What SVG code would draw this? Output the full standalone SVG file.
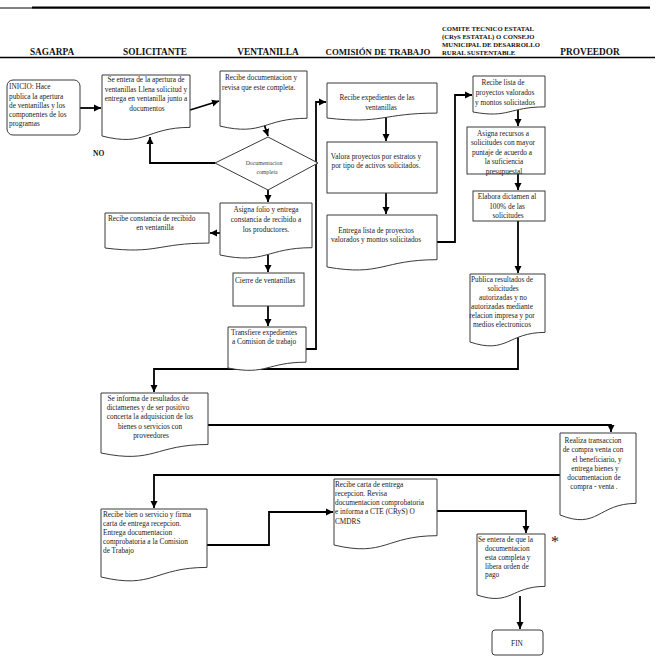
<svg xmlns="http://www.w3.org/2000/svg" width="661" height="662" viewBox="0 0 661 662">
<style>
.bx{fill:#fff;stroke:#3a3a3a;stroke-width:1}
.cn{fill:none;stroke:#000;stroke-width:1.8}
.t{font-family:"Liberation Serif",serif;font-size:7.3px;fill:#1a1a1a}
.m{text-anchor:middle}
.h{font-family:"Liberation Serif",serif;font-size:9.3px;font-weight:bold;fill:#111}
.hs{font-family:"Liberation Serif",serif;font-size:6.7px;font-weight:bold;fill:#111}
</style>
<defs>
<marker id="ah" markerUnits="userSpaceOnUse" markerWidth="8" markerHeight="8" refX="7" refY="4" orient="auto">
<path d="M0,0.5 L7,4 L0,7.5 Z" fill="#000"/>
</marker>
</defs>
<rect width="661" height="662" fill="#fff"/>
<g id="header">
<path d="M0,8 H650" stroke="#000" stroke-width="1"/>
<path d="M32,7.5 H650" stroke="#000" stroke-width="2"/>
<path d="M0,57.5 H655" stroke="#000" stroke-width="1.3"/>
<text class="h m" x="52" y="54.5">SAGARPA</text>
<text class="h m" x="155" y="54.5">SOLICITANTE</text>
<text class="h m" x="268" y="54.5">VENTANILLA</text>
<text class="h m" x="378" y="54.5" style="font-size:8.8px">COMISIÓN DE TRABAJO</text>
<text class="hs" x="442" y="30.5">COMITE TECNICO ESTATAL</text>
<text class="hs" x="442" y="38.5">(CRyS ESTATAL) O CONSEJO</text>
<text class="hs" x="442" y="46.5">MUNICIPAL DE DESARROLLO</text>
<text class="hs" x="442" y="54.5">RURAL SUSTENTABLE</text>
<text class="h m" x="590" y="54.5">PROVEEDOR</text>
</g>
<g id="connectors">
<path class="cn" d="M80,108 H101" marker-end="url(#ah)"/>
<path class="cn" d="M190,110 L219,101" marker-end="url(#ah)"/>
<path class="cn" d="M264,124 L268,136" marker-end="url(#ah)"/>
<path class="cn" d="M215,163 H150 V137" marker-end="url(#ah)"/>
<path class="cn" d="M268,190 V202" marker-end="url(#ah)"/>
<path class="cn" d="M220,233 H210" marker-end="url(#ah)"/>
<path class="cn" d="M268,255 V272" marker-end="url(#ah)"/>
<path class="cn" d="M268,306 V326" marker-end="url(#ah)"/>
<path class="cn" d="M306,349 H316 V102 H326" marker-end="url(#ah)"/>
<path class="cn" d="M386,117 V141" marker-end="url(#ah)"/>
<path class="cn" d="M386,193 V214" marker-end="url(#ah)"/>
<path class="cn" d="M437,242 H455 V95 H472" marker-end="url(#ah)"/>
<path class="cn" d="M518,110 V126" marker-end="url(#ah)"/>
<path class="cn" d="M518,174 V190" marker-end="url(#ah)"/>
<path class="cn" d="M518,221 V273" marker-end="url(#ah)"/>
<path class="cn" d="M518,337 V369 H154 V392" marker-end="url(#ah)"/>
<path class="cn" d="M208,425 H611 V432" marker-end="url(#ah)"/>
<path class="cn" d="M560,475 H154 V508" marker-end="url(#ah)"/>
<path class="cn" d="M207,545 H269 V512 H333" marker-end="url(#ah)"/>
<path class="cn" d="M437,511 H526 V533" marker-end="url(#ah)"/>
<path class="cn" d="M520,596 V629" stroke-width="2.2" marker-end="url(#ah)"/>
</g>
<g id="inicio">
<rect class="bx" x="7" y="80" width="73" height="55" rx="6"/>
<text class="t" x="9" y="89">INICIO: Hace</text>
<text class="t" x="9" y="98.5">publica la apertura</text>
<text class="t" x="9" y="108">de ventanillas y los</text>
<text class="t" x="9" y="117">componentes de los</text>
<text class="t" x="9" y="126">programas</text>
</g>
<g id="solicitud">
<path class="bx" d="M102,75 H190 V127.4 C146,127.4 146,147.3 102,136 Z"/>
<text class="t m" x="146" y="82">Se entera de la apertura de</text>
<text class="t m" x="146" y="91.5">ventanillas Llena solicitud y</text>
<text class="t m" x="146" y="101">entrega en ventanilla junto a</text>
<text class="t m" x="147" y="110.5">documentos</text>
</g>
<g id="recibe-doc">
<path class="bx" d="M220,71 H307 V118.3 C263.5,118.3 263.5,136.3 220,126.1 Z"/>
<text class="t" x="225" y="80">Recibe documentacion y</text>
<text class="t" x="222" y="90">revisa que este completa.</text>
</g>
<g id="decision">
<path class="bx" d="M215,163 L268,137 L318,163 L268,190 Z"/>
<text class="t m" x="264" y="165" style="font-size:5.8px;fill:#444">Documentacion</text>
<text class="t m" x="267" y="174" style="font-size:5.8px;fill:#444">completa</text>
<text class="h" x="93" y="156" style="font-size:7.5px">NO</text>
</g>
<g id="asigna-folio">
<path class="bx" d="M220,203 H312 V247.7 C266,247.7 266,264.7 220,255 Z"/>
<text class="t m" x="266" y="211.5">Asigna folio y entrega</text>
<text class="t m" x="266" y="221.5">constancia de recibido a</text>
<text class="t m" x="266" y="231.5">los productores.</text>
</g>
<g id="recibe-constancia">
<path class="bx" d="M105,213 H209 V243.1 C157,243.1 157,254.5 105,248 Z"/>
<text class="t" x="108" y="220.5">Recibe constancia de recibido</text>
<text class="t m" x="155" y="229.5">en ventanilla</text>
</g>
<g id="cierre">
<rect class="bx" x="233" y="273" width="71" height="33"/>
<text class="t" x="235" y="283">Cierre de ventanillas</text>
</g>
<g id="transfiere">
<path class="bx" d="M228,327 H306 V362.2 C267,362.2 267,375.6 228,368 Z"/>
<text class="t" x="231" y="334.5">Transfiere expedientes</text>
<text class="t" x="232" y="343.5">a Comision de trabajo</text>
</g>
<g id="recibe-exp">
<path class="bx" d="M327,83 H437 V113.1 C382,113.1 382,124.5 327,118 Z"/>
<text class="t m" x="377" y="100">Recibe expedientes de las</text>
<text class="t m" x="381" y="109.5">ventanillas</text>
</g>
<g id="valora">
<rect class="bx" x="327" y="142" width="110" height="51"/>
<text class="t m" x="376" y="158.5">Valora proyectos por estratos y</text>
<text class="t m" x="376" y="167.5">por tipo de activos solicitados.</text>
</g>
<g id="entrega-lista">
<path class="bx" d="M327,215 H437 V259.7 C382,259.7 382,276.7 327,267 Z"/>
<text class="t m" x="376" y="232.5">Entrega lista de proyectos</text>
<text class="t m" x="376" y="241.5">valorados y montos solicitados</text>
</g>
<g id="recibe-lista">
<path class="bx" d="M473,76 H545 V106.9 C509,106.9 509,118.6 473,112 Z"/>
<text class="t m" x="503" y="84.5">Recibe lista de</text>
<text class="t m" x="505" y="94.5">proyectos valorados</text>
<text class="t m" x="505" y="104.5">y montos solicitados</text>
</g>
<g id="asigna-recursos">
<rect class="bx" x="467" y="127" width="78" height="47"/>
<text class="t m" x="503" y="135.5">Asigna recursos a</text>
<text class="t m" x="503" y="145">solicitudes con mayor</text>
<text class="t m" x="502" y="154.5">puntaje de acuerdo a</text>
<text class="t m" x="504" y="164">la suficiencia</text>
<text class="t m" x="504" y="173.5">presupuestal</text>
</g>
<g id="elabora">
<rect class="bx" x="473" y="191" width="72" height="30"/>
<text class="t m" x="507" y="198.5">Elabora dictamen al</text>
<text class="t m" x="507" y="208.5">100% de las</text>
<text class="t m" x="508" y="217.5">solicitudes</text>
</g>
<g id="publica">
<path class="bx" d="M470,274 H545 V332.4 C507.5,332.4 507.5,354.6 470,342 Z"/>
<text class="t m" x="502" y="281.5">Publica resultados de</text>
<text class="t m" x="503" y="290.5">solicitudes</text>
<text class="t m" x="503" y="300">autorizadas y no</text>
<text class="t m" x="502" y="309">autorizadas mediante</text>
<text class="t m" x="502" y="318">relacion impresa y por</text>
<text class="t m" x="502" y="327">medios electronicos</text>
</g>
<g id="se-informa">
<path class="bx" d="M101,393 H208 V444.5 C154.5,444.5 154.5,464.1 101,453 Z"/>
<text class="t m" x="148" y="400.5">Se informa de resultados de</text>
<text class="t m" x="148" y="409.5">dictamenes y de ser positivo</text>
<text class="t m" x="150" y="419">concerta la adquisicion de los</text>
<text class="t m" x="150" y="428.5">bienes o servicios con</text>
<text class="t m" x="151" y="438">proveedores</text>
</g>
<g id="realiza">
<path class="bx" d="M560,433 H636 V503.4 C598,503.4 598,530.2 560,515 Z"/>
<text class="t m" x="593" y="442.5">Realiza transaccion</text>
<text class="t m" x="593" y="452">de compra venta con</text>
<text class="t m" x="597" y="461.5">el beneficiario, y</text>
<text class="t m" x="595" y="471">entrega bienes y</text>
<text class="t m" x="594" y="480">documentacion de</text>
<text class="t m" x="594" y="489">compra - venta .</text>
</g>
<g id="recibe-bien">
<path class="bx" d="M101,509 H207 V567.4 C154,567.4 154,589.6 101,577 Z"/>
<text class="t" x="103" y="516.5">Recibe bien o servicio y firma</text>
<text class="t" x="103" y="526">carta de entrega recepcion.</text>
<text class="t" x="103" y="535">Entrega documentacion</text>
<text class="t" x="103" y="544">comprobatoria a la Comision</text>
<text class="t" x="103" y="553">de Trabajo</text>
</g>
<g id="recibe-carta">
<path class="bx" d="M334,479 H437 V535.7 C385.5,535.7 385.5,557.3 334,545 Z"/>
<text class="t" x="335" y="486.5">Recibe carta de entrega</text>
<text class="t" x="335" y="495.5">recepcion. Revisa</text>
<text class="t" x="335" y="505">documentacion comprobatoria</text>
<text class="t" x="335" y="514">e informa a CTE (CRyS) O</text>
<text class="t" x="335" y="523.5">CMDRS</text>
</g>
<g id="se-entera">
<path class="bx" d="M477,534 H545 V586.4 C511,586.4 511,606.3 477,595 Z"/>
<text class="t" x="478" y="541.5">Se entera de que la</text>
<text class="t" x="485" y="551">documentacion</text>
<text class="t" x="485" y="560">esta completa y</text>
<text class="t" x="485" y="568.5">libera orden de</text>
<text class="t" x="485" y="577">pago</text>
<text class="t m" x="555" y="547" style="font-size:16px">*</text>
</g>
<g id="fin">
<rect class="bx" x="492" y="630" width="51" height="25" rx="3"/>
<text class="t m" x="517" y="645.5">FIN</text>
</g>
</svg>
